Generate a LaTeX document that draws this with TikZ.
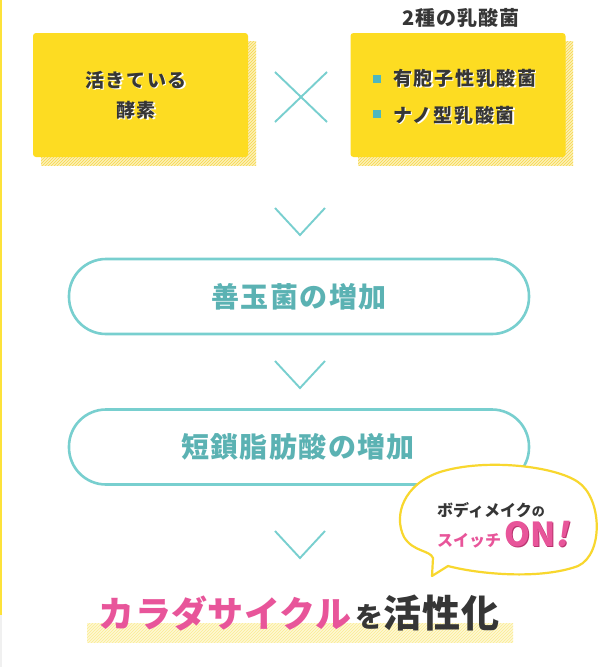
\documentclass[tikz,border=0pt]{standalone}
\usepackage{fontspec}
\usetikzlibrary{calc}
\newfontfamily\jp{Noto Sans CJK JP}
\definecolor{boxy}{HTML}{FDDC22}
\definecolor{hatchy}{HTML}{F7DC5C}
\definecolor{bandy}{HTML}{FBEE9C}
\definecolor{lefty}{HTML}{FDE23A}
\definecolor{tealb}{HTML}{78CFCF}
\definecolor{tealt}{HTML}{5BB2B3}
\definecolor{tealq}{HTML}{4EB7BE}
\definecolor{darkt}{HTML}{363636}
\definecolor{pinkt}{HTML}{E8559A}
\definecolor{pinkd}{HTML}{B9336F}
\definecolor{buby}{HTML}{F8D72E}
\tikzset{
  ybox/.style={fill=boxy, rounded corners=3pt, minimum width=215pt, minimum height=124pt, inner sep=0pt},
  pill/.style={draw=tealb, line width=2.6pt, fill=white, rounded corners=37pt, minimum width=460pt, minimum height=75pt, inner sep=0pt},
  pilltxt/.style={text=tealt, inner sep=0pt, font=\jp\bfseries\fontsize{28}{28}\selectfont\addfontfeature{LetterSpace=5}},
  boxtxt/.style={text=darkt, inner sep=0pt, align=center, font=\jp\bfseries\fontsize{19}{30}\selectfont\addfontfeature{LetterSpace=9}},
  boxsh/.style={boxtxt, text=white},
  listtxt/.style={text=darkt, inner sep=0pt, anchor=west, font=\jp\bfseries\fontsize{19}{19}\selectfont\addfontfeature{LetterSpace=9}},
  listsh/.style={listtxt, text=white},
  bullet/.style={fill=tealq, minimum size=8pt, inner sep=0pt},
  chev/.style={draw=tealb, line width=1.9pt},
  hatch/.style={draw=#1, line width=1.1pt},
}
\begin{document}
\begin{tikzpicture}[x=1pt, y=-1pt]
\useasboundingbox (0,0) rectangle (599,667);
\fill[white] (0,0) rectangle (599,667);
% left edge line
\fill[lefty] (0,0) rectangle (2,615);
\fill[black!6] (0,615) rectangle (1.5,667);

% hatched shadows of the two boxes
\begin{scope}
  \clip (41,41) rectangle (256,165);
  \foreach \i in {-130,-127,...,260} { \draw[hatch=hatchy] (\i,170) -- (\i+140,30); }
\end{scope}
\begin{scope}
  \clip (358,41) rectangle (573,165);
  \foreach \i in {220,223,...,580} { \draw[hatch=hatchy] (\i,170) -- (\i+140,30); }
\end{scope}

% yellow boxes
\node[ybox] (enz) at (140.5,95) {};
\node[ybox] (lab) at (458,95) {};

% left box text
\node[boxsh] (enzsh) at (137.3,96.3) {活きている\\酵素};
\node[boxtxt] (enzt) at (136,95) {活きている\\酵素};

% right box title
\node[text=darkt, inner sep=0pt, font=\jp\bfseries\fontsize{20}{20}\selectfont\addfontfeature{LetterSpace=5}] (labtitle) at (461,18) {2種の乳酸菌};

% bullets and list
\node[bullet] (b1) at (377,79) {};
\node[bullet] (b2) at (377,114) {};
\node[listsh] (l1sh) at (394.3,79.3) {有胞子性乳酸菌};
\node[listtxt] (l1) at (393,78) {有胞子性乳酸菌};
\node[listsh] (l2sh) at (394.3,116.3) {ナノ型乳酸菌};
\node[listtxt] (l2) at (393,115) {ナノ型乳酸菌};

% cross mark
\coordinate (xc) at (301,97);
\draw[chev] ($(xc)+(-26,-25)$) -- ($(xc)+(26,25)$);
\draw[chev] ($(xc)+(26,-25)$) -- ($(xc)+(-26,25)$);

% chevrons
\coordinate (c1) at (300,235);
\coordinate (c2) at (300,388);
\coordinate (c3) at (300,558);
\foreach \c in {c1,c2,c3} {
  \draw[chev, line join=miter] ($(\c)+(-25,-27)$) -- (\c) -- ($(\c)+(25,-27)$);
}

% pills
\node[pill] (p1) at (299,296.5) {};
\node[pilltxt] (p1t) at (299,297) {善玉菌の増加};
\node[pill] (p2) at (299,447) {};
\node[pilltxt] (p2t) at (298,447) {短鎖脂肪酸の増加};

% speech bubble
\draw[buby, line width=2.2pt, fill=white, line join=round]
  (432,576) -- (448,566)
  .. controls (478,574) and (540,580) .. (578,566)
  .. controls (604,554) and (602,498) .. (578,482)
  .. controls (555,466) and (485,458) .. (440,472)
  .. controls (404,484) and (393,515) .. (404,537)
  .. controls (413,552) and (430,550) .. (433,558)
  -- cycle;
\node[text=darkt, inner sep=0pt, anchor=base west, font=\jp\bfseries\fontsize{16}{16}\selectfont] (bm) at (437,516) {ボディメイク{\fontsize{13}{13}\selectfont の}};
\node[text=pinkt, inner sep=0pt, anchor=base west, font=\jp\bfseries\fontsize{16}{16}\selectfont] (sw) at (437,546) {スイッチ};
\node[text=pinkd, inner sep=0pt, anchor=base west, font=\jp\bfseries\fontsize{33}{33}\selectfont] (onsh) at ($(sw.base east)+(4.2,1.2)$) {ON\addfontfeature{FakeSlant=0.2}!};
\node[text=pinkt, inner sep=0pt, anchor=base west, font=\jp\bfseries\fontsize{33}{33}\selectfont] (on) at ($(sw.base east)+(3,0)$) {ON\addfontfeature{FakeSlant=0.2}!};

% bottom title with hatch band
\begin{scope}
  \clip (87,623) rectangle (513,642);
  \foreach \i in {60,63,...,520} { \draw[hatch=bandy] (\i,650) -- (\i+40,610); }
\end{scope}
\node[inner sep=0pt, anchor=base, font=\jp\bfseries] (title) at (299,627)
  {{\color{pinkt}\fontsize{36}{36}\selectfont\addfontfeature{LetterSpace=1}カラダサイクル}{\color{darkt}\fontsize{28}{28}\selectfont\,を}{\color{darkt}\fontsize{38}{38}\selectfont\addfontfeature{LetterSpace=2}活性化}};
\end{tikzpicture}
\end{document}
